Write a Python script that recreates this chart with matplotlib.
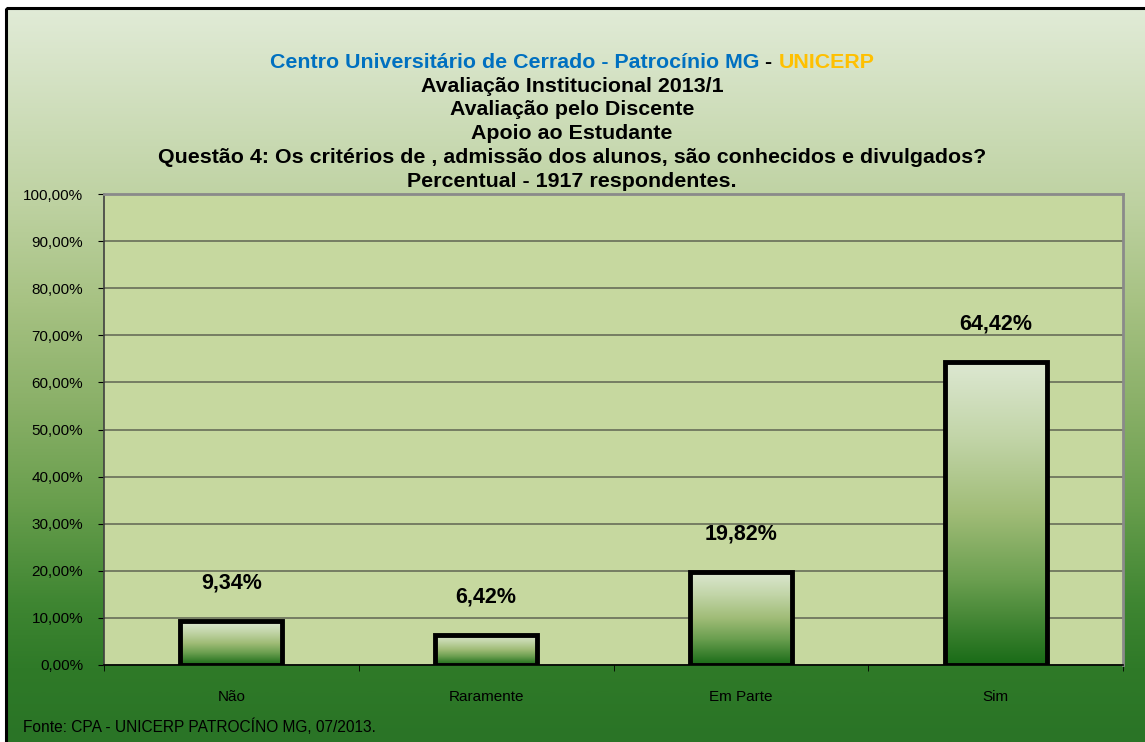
import numpy as np
import matplotlib
matplotlib.use("Agg")
import matplotlib.pyplot as plt
from matplotlib.colors import LinearSegmentedColormap
from matplotlib.patches import Rectangle

# ---- data ----
categories = ["Não", "Raramente", "Em Parte", "Sim"]
values = [9.34, 6.42, 19.82, 64.42]
value_labels = ["9,34%", "6,42%", "19,82%", "64,42%"]
yticks = [0, 10, 20, 30, 40, 50, 60, 70, 80, 90, 100]
ytick_labels = ["0,00%", "10,00%", "20,00%", "30,00%", "40,00%", "50,00%",
                "60,00%", "70,00%", "80,00%", "90,00%", "100,00%"]
title_line1 = [("Centro Universitário de Cerrado - Patrocínio MG", "#0070c0"),
               (" - ", "black"),
               ("UNICERP", "#ffc000")]
title_lines = ["Avaliação Institucional 2013/1",
               "Avaliação pelo Discente",
               "Apoio ao Estudante",
               "Questão 4: Os critérios de , admissão dos alunos, são conhecidos e divulgados?",
               "Percentual - 1917 respondentes."]
source = "Fonte: CPA - UNICERP PATROCÍNO MG, 07/2013."

plt.rcParams["font.family"] = ["Liberation Sans", "DejaVu Sans"]

W, H = 1145, 742
fig = plt.figure(figsize=(W / 100, H / 100), dpi=100)
fig.patch.set_facecolor("white")

# background gradient with frame
bg = fig.add_axes([0, 0, 1, 1])
bg.set_axis_off()
bg.set_xlim(0, W)
bg.set_ylim(H, 0)
bg_cmap = LinearSegmentedColormap.from_list("bg", [
    (0.0, "#e1ebd7"), (0.27, "#bdd1a0"), (0.40, "#a7c283"), (0.54, "#8ab068"),
    (0.67, "#6a9f4e"), (0.81, "#3f8632"), (0.90, "#2f7a28"), (1.0, "#2a7426")])
grad = np.linspace(0, 1, 512).reshape(-1, 1)
bg.imshow(grad, cmap=bg_cmap, extent=[6, W + 5, H, 8], aspect="auto",
          interpolation="bilinear")
bg.add_patch(Rectangle((6, 8), W + 20, H + 20, fill=False, edgecolor="black",
                       linewidth=2.2))
bg.set_xlim(0, W)
bg.set_ylim(H, 0)

# main axes
L, R, T, B = 104, 1123, 194, 665
ax = fig.add_axes([L / W, 1 - B / H, (R - L) / W, (B - T) / H])
ax.set_facecolor("#c6d89f")
ax.set_xlim(-0.5, len(categories) - 0.5)
ax.set_ylim(0, 100)

ax.set_yticks(yticks, ytick_labels)
ax.yaxis.grid(True, color="#6f765e", linewidth=1.3)
ax.set_axisbelow(True)

bar_cmap = LinearSegmentedColormap.from_list("bar", [
    (0.0, "#dde8d2"), (0.25, "#c2d5a8"), (0.5, "#a0bc77"), (0.72, "#6b9f50"),
    (1.0, "#196b17")])
bw = 0.4
for i, v in enumerate(values):
    ax.imshow(grad, cmap=bar_cmap, extent=[i - bw / 2, i + bw / 2, 0, v],
              aspect="auto", zorder=3, interpolation="bilinear")
ax.bar(range(len(values)), values, width=bw, facecolor="none",
       edgecolor="black", linewidth=3.5, zorder=4)
for i, (v, lab) in enumerate(zip(values, value_labels)):
    ax.text(i, v + 8, lab, ha="center", va="center", fontsize=15.5,
            fontweight="bold", color="black", zorder=5)

ax.set_xlim(-0.5, len(categories) - 0.5)
ax.set_ylim(0, 100)

ax.set_xticks(range(len(categories)), categories)
ax.set_xticks(np.arange(-0.5, len(categories), 1), minor=True)
ax.tick_params(axis="x", which="major", length=0, pad=18, labelsize=11)
ax.tick_params(axis="x", which="minor", length=4, direction="out", color="black")
ax.tick_params(axis="y", length=4, direction="out", pad=11, labelsize=11,
               color="black")

for s in ["top", "right"]:
    ax.spines[s].set_color("#8a8a8a")
    ax.spines[s].set_linewidth(2)
ax.spines["left"].set_color("#404040")
ax.spines["left"].set_linewidth(1.2)
ax.spines["bottom"].set_color("black")
ax.spines["bottom"].set_linewidth(1.2)

# titles
cx = 572
baselines = [68, 92, 115, 139, 163, 187]
tsize = 15.4
renderer = fig.canvas.get_renderer()
parts = []
for txt, col in title_line1:
    t = fig.text(0, 1 - baselines[0] / H, txt, color=col, fontsize=tsize,
                 fontweight="bold", ha="left", va="baseline")
    parts.append(t)
widths = [p.get_window_extent(renderer).width for p in parts]
x0 = cx - sum(widths) / 2
for p, w in zip(parts, widths):
    p.set_x(x0 / W)
    x0 += w
for line, yb in zip(title_lines, baselines[1:]):
    fig.text(cx / W, 1 - yb / H, line, ha="center", va="baseline",
             fontsize=tsize, fontweight="bold", color="black")

fig.text(23 / W, 1 - 727 / H, source, ha="left", va="center", fontsize=11.2,
         color="black")

fig.savefig("out.png", dpi=100, facecolor=fig.get_facecolor())
